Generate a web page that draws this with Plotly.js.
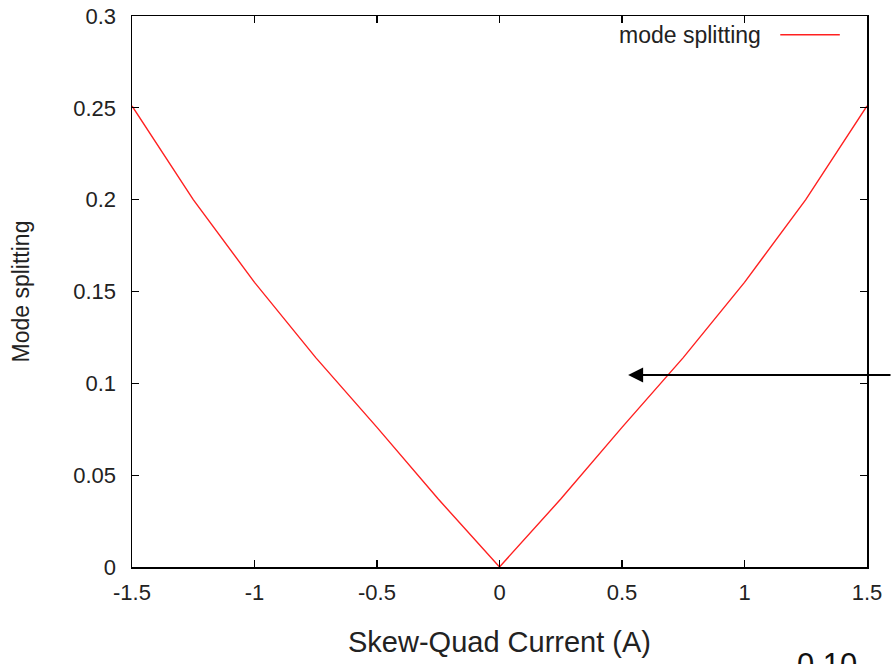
<!DOCTYPE html>
<html>
<head>
<meta charset="utf-8">
<script src="https://cdn.plot.ly/plotly-3.0.1.min.js"></script>
<style>html,body{margin:0;padding:0;background:#fff;}#chart{width:892px;height:664px;}</style>
</head>
<body>
<div id="chart"></div>
<script>
// Data
const current = [-1.5, -1.25, -1, -0.75, -0.5, -0.25, 0, 0.25, 0.5, 0.75, 1, 1.25, 1.5];
const splitting = [0.251, 0.2, 0.155, 0.114, 0.076, 0.037, 0, 0.037, 0.076, 0.114, 0.155, 0.2, 0.251];
const xTickVals = [-1.5, -1, -0.5, 0, 0.5, 1, 1.5];
const xTickText = ["-1.5", "-1", "-0.5", "0", "0.5", "1", "1.5"];
const yTickVals = [0, 0.05, 0.1, 0.15, 0.2, 0.25, 0.3];
const yTickText = ["0", "0.05", "0.1", "0.15", "0.2", "0.25", "0.3"];
const seriesName = "mode splitting";
const arrowTarget = {x: 0.525, y: 0.1045};

const font = "Liberation Sans, Arial, Helvetica, sans-serif";

const trace = {
  x: current, y: splitting, type: "scatter", mode: "lines",
  name: seriesName, showlegend: false,
  line: {color: "#ff2020", width: 1.4}
};

const axisCommon = {
  showgrid: false, zeroline: false, showline: true, linecolor: "#000", linewidth: 1.5,
  mirror: "ticks", ticks: "inside", ticklen: 7, tickwidth: 1.2, tickcolor: "#000",
  tickfont: {family: font, size: 22, color: "#222"}, tickmode: "array"
};

const layout = {
  width: 892, height: 664,
  margin: {l: 132, r: 25, t: 16, b: 97},
  paper_bgcolor: "#fff", plot_bgcolor: "#fff",
  xaxis: Object.assign({}, axisCommon, {
    range: [-1.5, 1.5], tickvals: xTickVals, ticktext: xTickText, ticklabelstandoff: 5,
    title: {text: "Skew-Quad Current (A)", font: {family: font, size: 29, color: "#222"}, standoff: 28}
  }),
  yaxis: Object.assign({}, axisCommon, {
    range: [0, 0.3], tickvals: yTickVals, ticktext: yTickText, ticklabelstandoff: 10,
    title: {text: "Mode splitting", font: {family: font, size: 23, color: "#222"}, standoff: 37}
  }),
  annotations: [
    {xref: "paper", yref: "paper", x: 0.8585, y: 0.966, xanchor: "right", yanchor: "middle",
     text: seriesName, showarrow: false, font: {family: font, size: 23, color: "#222"}},
    {x: arrowTarget.x, y: arrowTarget.y, xref: "x", yref: "y", ax: 280, ay: 0,
     showarrow: true, arrowhead: 2, arrowsize: 1.5, arrowwidth: 2, arrowcolor: "#000", text: "", standoff: 0},
    {xref: "paper", yref: "paper", x: 0.9456, y: -0.141, xanchor: "center", yanchor: "top",
     text: "0.10", showarrow: false, font: {family: font, size: 31, color: "#111"}}
  ],
  shapes: [
    {type: "line", xref: "paper", yref: "paper", x0: 0.882, x1: 0.963, y0: 0.966, y1: 0.966,
     line: {color: "#ff2020", width: 1.4}}
  ]
};

Plotly.newPlot("chart", [trace], layout, {staticPlot: true, displayModeBar: false});
</script>
</body>
</html>
